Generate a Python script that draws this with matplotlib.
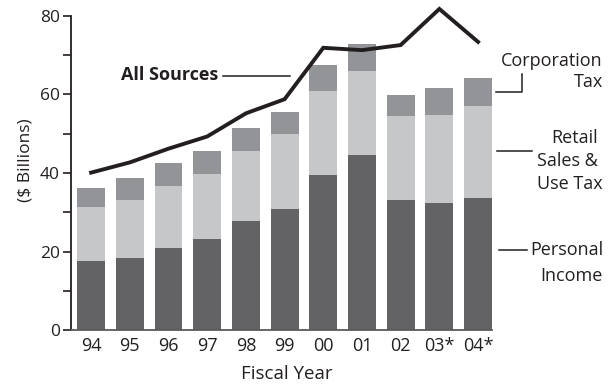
import numpy as np
import matplotlib.pyplot as plt
from matplotlib.lines import Line2D

plt.rcParams['font.family'] = ['Open Sans', 'DejaVu Sans']

years = ['94', '95', '96', '97', '98', '99', '00', '01', '02', '03*', '04*']
personal_income = [17.6, 18.3, 20.9, 23.2, 27.8, 30.8, 39.5, 44.6, 33.1, 32.4, 33.6]
sales_use_tax = [13.7, 14.8, 15.8, 16.5, 17.8, 19.1, 21.5, 21.4, 21.4, 22.4, 23.5]
corporation_tax = [4.9, 5.5, 5.8, 5.9, 5.9, 5.6, 6.4, 6.9, 5.4, 6.9, 7.1]
all_sources = [40.1, 42.7, 46.2, 49.3, 55.2, 58.8, 71.9, 71.3, 72.6, 81.8, 73.4]

c_dark = '#636365'
c_light = '#c6c7c9'
c_mid = '#939497'
c_line = '#231f20'

W, H = 611, 389
fig = plt.figure(figsize=(W / 100, H / 100), dpi=100)
ax = fig.add_axes([71 / W, 1 - 330 / H, (492 - 71) / W, (330 - 16) / H])

x = np.arange(len(years))
bw = 0.72
pi = np.array(personal_income)
st = np.array(sales_use_tax)
ct = np.array(corporation_tax)
ax.bar(x, pi, bw, color=c_dark, zorder=2)
ax.bar(x, st, bw, bottom=pi, color=c_light, zorder=2)
ax.bar(x, ct, bw, bottom=pi + st, color=c_mid, zorder=2)
ax.plot(x, all_sources, color=c_line, lw=2.8, clip_on=False, zorder=3,
        solid_joinstyle='miter')

ax.set_xlim(-0.52, len(years) - 1 + bw / 2)
ax.set_ylim(0, 80)
ax.set_xticks(x)
ax.set_xticklabels(years)
ax.set_yticks([0, 20, 40, 60, 80])
ax.set_yticks([10, 30, 50, 70], minor=True)
ax.tick_params(axis='x', length=0, pad=5, labelsize=13, colors='#231f20')
ax.tick_params(axis='y', which='both', length=6, width=1.2, direction='out',
               pad=2, labelsize=12.5, colors='#231f20')
for s in ['top', 'right']:
    ax.spines[s].set_visible(False)
ax.spines['left'].set_linewidth(1.3)
ax.spines['left'].set_color('#231f20')
ax.spines['bottom'].set_linewidth(1.3)
ax.spines['bottom'].set_color('#5a5a5c')
ax.spines['bottom'].set_zorder(4)

ax.set_ylabel('($ Billions)', fontsize=12.5, color='#231f20')
ax.set_xlabel('Fiscal Year', fontsize=13.5, color='#231f20')
ax.yaxis.set_label_coords(-0.09, 0.541)
ax.xaxis.set_label_coords(0.513, -0.112)


def fx(px):
    return px / W


def fy(py):
    return 1 - py / H


txt = dict(fontsize=13, color='#231f20', transform=fig.transFigure)
lkw = dict(color='#231f20', lw=1.1, transform=fig.transFigure)

# "All Sources" call-out
fig.text(fx(218), fy(75), 'All Sources', ha='right', va='center',
         fontweight='bold', **txt)
fig.add_artist(Line2D([fx(223), fx(290)], [fy(76), fy(76)], **lkw))

# right-hand series labels
fig.text(fx(603), fy(61), 'Corporation', ha='right', va='center', **txt)
fig.text(fx(603), fy(82), 'Tax', ha='right', va='center', **txt)
fig.add_artist(Line2D([fx(496), fx(522), fx(522)], [fy(92), fy(92), fy(74)], **lkw))

fig.text(fx(598), fy(138), 'Retail', ha='right', va='center', **txt)
fig.text(fx(598), fy(161), 'Sales &', ha='right', va='center', **txt)
fig.text(fx(603), fy(184), 'Use Tax', ha='right', va='center', **txt)
fig.add_artist(Line2D([fx(497), fx(532)], [fy(151), fy(151)], **lkw))

fig.text(fx(603), fy(250), 'Personal', ha='right', va='center', **txt)
fig.text(fx(603), fy(276), 'Income', ha='right', va='center', **txt)
fig.add_artist(Line2D([fx(499), fx(527)], [fy(250), fy(250)], **lkw))

fig.savefig('out.png', dpi=100)
